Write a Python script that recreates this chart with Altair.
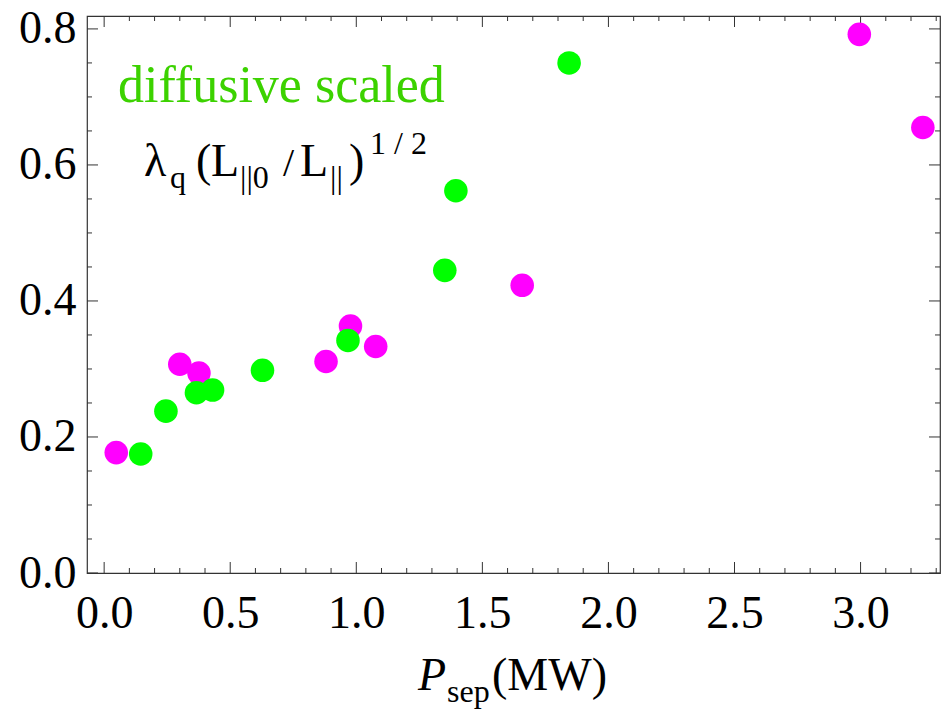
import altair as alt
import pandas as pd

# ---- data ----
magenta_x = [0.048, 0.300, 0.376, 0.880, 0.977, 1.077, 1.658, 2.995, 3.247]
magenta_y = [0.177, 0.307, 0.294, 0.311, 0.363, 0.333, 0.423, 0.792, 0.655]
green_x = [0.145, 0.245, 0.366, 0.430, 0.628, 0.967, 1.351, 1.395, 1.844]
green_y = [0.175, 0.238, 0.265, 0.269, 0.298, 0.342, 0.445, 0.562, 0.750]

x_major = [0.0, 0.5, 1.0, 1.5, 2.0, 2.5, 3.0]
x_minor = [0.1, 0.2, 0.3, 0.4, 0.6, 0.7, 0.8, 0.9, 1.1, 1.2, 1.3, 1.4,
           1.6, 1.7, 1.8, 1.9, 2.1, 2.2, 2.3, 2.4, 2.6, 2.7, 2.8, 2.9,
           3.1, 3.2, 3.3]
y_major = [0.0, 0.2, 0.4, 0.6, 0.8]
y_minor = [0.05, 0.1, 0.15, 0.25, 0.3, 0.35, 0.45, 0.5, 0.55, 0.65, 0.7, 0.75]

W, H = 853, 557
FONT = "Liberation Serif"

xs = alt.Scale(domain=[-0.068, 3.315], nice=False, zero=False)
ys = alt.Scale(domain=[0.0, 0.819], nice=False, zero=False)

mag_df = pd.DataFrame({"x": magenta_x, "y": magenta_y})
grn_df = pd.DataFrame({"x": green_x, "y": green_y})

xaxis = alt.Axis(values=x_major, format=".1f", labelFont=FONT, labelFontSize=46,
                 labelColor="black", labelPadding=18, ticks=False, domain=False,
                 grid=False, title=None, labelFlush=False, labelOverlap=False)
yaxis = alt.Axis(values=y_major, format=".1f", labelFont=FONT, labelFontSize=46,
                 labelColor="black", labelPadding=11, ticks=False, domain=False,
                 grid=False, title=None, labelFlush=False, labelOverlap=False)

mag = alt.Chart(mag_df).mark_circle(size=555, opacity=1, color="#FF00FF").encode(
    x=alt.X("x:Q", scale=xs, axis=xaxis),
    y=alt.Y("y:Q", scale=ys, axis=yaxis),
)
grn = alt.Chart(grn_df).mark_circle(size=555, opacity=1, color="#00FF00").encode(
    x=alt.X("x:Q", scale=xs),
    y=alt.Y("y:Q", scale=ys),
)

TC = "#333333"


def xticks(vals, length):
    df = pd.DataFrame({"v": vals})
    bot = alt.Chart(df).mark_rule(color=TC, strokeWidth=1).encode(
        x=alt.X("v:Q", scale=xs), y=alt.value(H), y2=alt.value(H - length))
    top = alt.Chart(df).mark_rule(color=TC, strokeWidth=1).encode(
        x=alt.X("v:Q", scale=xs), y=alt.value(0), y2=alt.value(length))
    return [bot, top]


def yticks(vals, length):
    df = pd.DataFrame({"v": vals})
    left = alt.Chart(df).mark_rule(color=TC, strokeWidth=1).encode(
        y=alt.Y("v:Q", scale=ys), x=alt.value(0), x2=alt.value(length))
    right = alt.Chart(df).mark_rule(color=TC, strokeWidth=1).encode(
        y=alt.Y("v:Q", scale=ys), x=alt.value(W), x2=alt.value(W - length))
    return [left, right]


one = pd.DataFrame({"a": [0]})


def txt(s, x, y, size, color="black", style="normal", align="left"):
    return alt.Chart(one).mark_text(
        text=s, font=FONT, fontSize=size, color=color, fontStyle=style,
        align=align, baseline="alphabetic").encode(x=alt.value(x), y=alt.value(y))


texts = [
    txt("diffusive scaled", 31, 86, 52, color="#3CD200"),
    txt("λ", 57, 160, 46),
    txt("q", 83, 172, 32),
    txt("(", 109, 160, 46),
    txt("L", 124, 160, 46),
    txt("||0", 153, 172, 32),
    txt("/", 196, 160, 40),
    txt("L", 213, 160, 46),
    txt("||", 243, 172, 32),
    txt(")", 262, 160, 46),
    txt("1 / 2", 283, 138, 32),
    # x-axis title
    txt("P", 331, 674, 46, style="italic"),
    txt("sep", 360, 686, 32),
    txt("(MW)", 405, 674, 46),
]

layers = (xticks(x_major, 11) + xticks(x_minor, 5) +
          yticks(y_major, 11) + yticks(y_minor, 5) +
          [mag, grn] + texts)

chart = alt.layer(*layers).properties(
    width=W, height=H,
    autosize=alt.AutoSizeParams(type="none"),
    padding={"left": 87, "top": 16, "right": 8, "bottom": 137},
    background="white",
).configure_view(stroke="#333333", strokeWidth=1.2)

chart.save("out.html", embed_options={"renderer": "svg", "actions": False})
